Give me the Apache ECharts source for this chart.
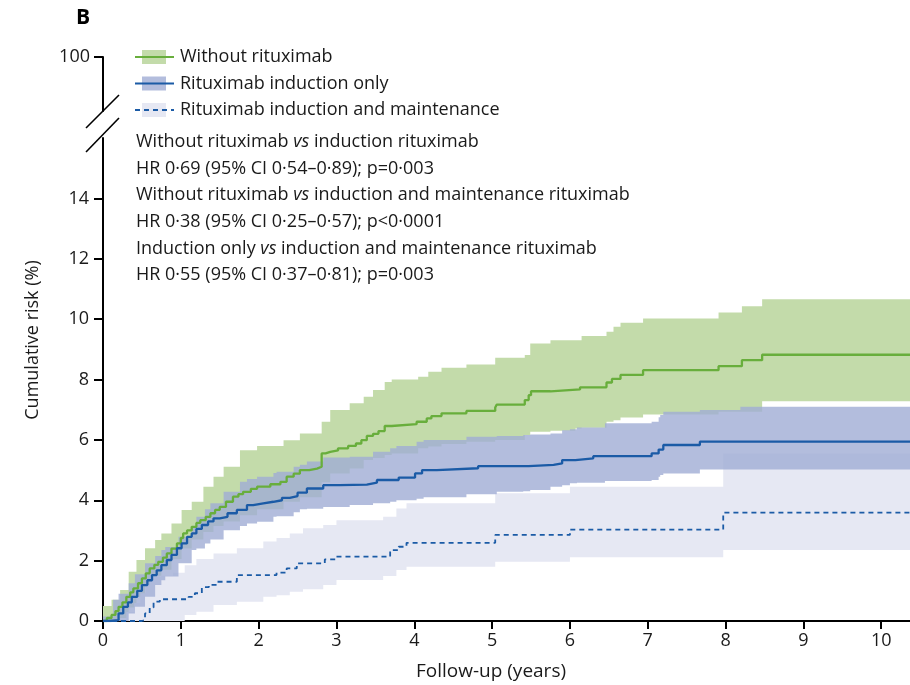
<!DOCTYPE html>
<html>
<head>
<meta charset="utf-8">
<script src="https://cdn.jsdelivr.net/npm/echarts@6/dist/echarts.min.js"></script>
<style>html,body{margin:0;padding:0;background:#fff}#c{width:910px;height:685px}</style>
</head>
<body>
<div id="c"></div>
<script>
// ---------- DATA ----------
var seriesNames = ['Without rituximab', 'Rituximab induction only', 'Rituximab induction and maintenance'];
var xTicks = [0, 1, 2, 3, 4, 5, 6, 7, 8, 9, 10];
var yTicks = [0, 2, 4, 6, 8, 10, 12, 14];
var yTopTicks = [100];

// Without rituximab: Kaplan-Meier step curve
var tWo = [0, 0.05, 0.11, 0.16, 0.2, 0.25, 0.3, 0.35, 0.39, 0.45,
           0.5, 0.55, 0.6, 0.66, 0.71, 0.77, 0.82, 0.88, 0.95, 1.0,
           1.03, 1.08, 1.14, 1.2, 1.25, 1.32, 1.38, 1.44, 1.5, 1.58,
           1.67, 1.74, 1.8, 1.9, 1.98, 2.15, 2.28, 2.36, 2.45, 2.53,
           2.65, 2.75, 2.81, 2.86, 2.92, 3.02, 3.15, 3.25, 3.32, 3.39,
           3.47, 3.54, 3.62, 3.71, 4.03, 4.16, 4.22, 4.35, 4.67, 5.04,
           5.06, 5.42, 5.47, 5.50, 5.75, 6.13, 6.47, 6.54, 6.65, 6.94,
           7.91, 8.21, 8.47, 10.37];
var vWo = [0, 0.1, 0.2, 0.33, 0.47, 0.62, 0.8, 0.95, 1.08, 1.25,
           1.41, 1.58, 1.74, 1.86, 1.96, 2.1, 2.24, 2.4, 2.57, 2.75,
           2.9, 3.0, 3.12, 3.25, 3.34, 3.45, 3.57, 3.68, 3.78, 3.95,
           4.12, 4.2, 4.28, 4.38, 4.45, 4.53, 4.61, 4.78, 4.88, 5.0,
           5.05, 5.11, 5.55, 5.6, 5.65, 5.72, 5.8, 5.88, 5.99, 6.13,
           6.2, 6.29, 6.46, 6.52, 6.6, 6.71, 6.79, 6.88, 6.96, 7.07,
           7.17, 7.32, 7.48, 7.61, 7.67, 7.74, 7.9, 8.02, 8.15, 8.31,
           8.44, 8.64, 8.82, 8.82];

// Without rituximab: 95% CI band
var tWoCI = [0, 0.11, 0.22, 0.33, 0.43, 0.54, 0.67, 0.75, 0.88, 1.01,
             1.14, 1.29, 1.42, 1.55, 1.76, 1.98, 2.32, 2.53, 2.81, 2.92,
             3.17, 3.35, 3.47, 3.62, 3.71, 4.05, 4.18, 4.35, 4.67, 5.04,
             5.42, 5.49, 5.75, 6.07, 6.15, 6.47, 6.56, 6.65, 6.94, 7.91,
             8.21, 8.47, 10.37];
var upWo = [0.5, 0.7, 1.03, 1.63, 2.02, 2.41, 2.68, 2.9, 3.23, 3.68,
            3.95, 4.45, 4.78, 5.11, 5.66, 5.8, 5.99, 6.21, 6.6, 6.99,
            7.21, 7.43, 7.65, 7.92, 8.0, 8.09, 8.26, 8.39, 8.5, 8.72,
            8.81, 9.19, 9.3, 9.3, 9.44, 9.58, 9.75, 9.88, 10.02, 10.22,
            10.43, 10.66, 10.66];
var loWo = [0, 0, 0.1, 0.45, 0.8, 1.15, 1.5, 1.7, 2.05, 2.4,
            2.7, 2.95, 3.15, 3.3, 3.5, 3.7, 3.95, 4.1, 4.6, 4.89,
            5.05, 5.33, 5.4, 5.5, 5.55, 5.72, 5.78, 5.86, 5.94, 6.0,
            6.16, 6.27, 6.3, 6.38, 6.4, 6.6, 6.65, 6.74, 6.84, 6.93,
            6.93, 7.28, 7.28];

// Rituximab induction only
var tInd = [0, 0.09, 0.2, 0.26, 0.32, 0.37, 0.44, 0.5, 0.57, 0.63,
            0.69, 0.75, 0.82, 0.88, 0.95, 1.01, 1.08, 1.14, 1.2, 1.27,
            1.35, 1.42, 1.5, 1.6, 1.72, 1.85, 1.93, 2.06, 2.19, 2.3,
            2.4, 2.5, 2.62, 2.83, 3.04, 3.39, 3.52, 3.80, 4.01, 4.10,
            4.29, 4.82, 5.47, 5.79, 5.90, 6.07, 6.3, 7.05, 7.14, 7.20,
            7.67, 10.37];
var vInd = [0, 0.03, 0.25, 0.47, 0.62, 0.8, 1.0, 1.19, 1.35, 1.52,
            1.68, 1.85, 2.02, 2.19, 2.41, 2.57, 2.79, 2.9, 3.05, 3.18,
            3.3, 3.4, 3.45, 3.57, 3.68, 3.84, 3.9, 3.95, 4.0, 4.08,
            4.14, 4.25, 4.39, 4.5, 4.52, 4.58, 4.67, 4.75, 4.89, 5.0,
            5.06, 5.13, 5.17, 5.22, 5.33, 5.39, 5.46, 5.55, 5.68, 5.83,
            5.94, 5.94];

// Rituximab induction only: 95% CI band
var tIndCI = [0, 0.13, 0.2, 0.33, 0.41, 0.54, 0.67, 0.75, 0.8, 0.97,
              1.14, 1.2, 1.31, 1.38, 1.55, 1.76, 1.85, 1.98, 2.19, 2.23,
              2.45, 2.53, 2.62, 2.83, 3.17, 3.47, 3.69, 3.77, 4.03, 4.12,
              4.67, 5.06, 5.40, 5.49, 5.75, 5.90, 6.0, 6.09, 6.45, 7.05,
              7.14, 7.16, 7.20, 7.67, 8.19, 10.37];
var upInd = [0.15, 0.7, 0.9, 1.25, 1.55, 1.91, 2.15, 2.35, 2.45, 2.79,
             3.15, 3.45, 3.7, 3.9, 4.28, 4.61, 4.7, 4.78, 4.9, 4.94,
             5.11, 5.18, 5.28, 5.42, 5.44, 5.61, 5.72, 5.8, 5.94, 6.0,
             6.1, 6.13, 6.16, 6.18, 6.21, 6.32, 6.35, 6.41, 6.55, 6.6,
             6.75, 6.82, 6.93, 6.99, 7.1, 7.1];
var loInd = [0, 0, 0, 0.25, 0.47, 0.8, 1.19, 1.35, 1.47, 1.91,
             2.35, 2.4, 2.57, 2.7, 3.01, 3.15, 3.23, 3.29, 3.45, 3.47,
             3.6, 3.7, 3.72, 3.78, 3.84, 3.9, 3.95, 4.0, 4.05, 4.1,
             4.2, 4.28, 4.3, 4.34, 4.45, 4.5, 4.56, 4.58, 4.64, 4.67,
             4.78, 4.84, 4.89, 5.02, 5.02, 5.02];

// Rituximab induction and maintenance
var tMnt = [0, 0.5, 0.54, 0.6, 0.65, 0.73, 1.1, 1.18, 1.27, 1.36,
            1.46, 1.72, 2.23, 2.36, 2.49, 2.85, 3.0, 3.69, 3.80, 3.90,
            5.04, 6.0, 7.97, 10.37];
var vMnt = [0, 0.03, 0.25, 0.45, 0.64, 0.72, 0.8, 0.92, 1.12, 1.2,
            1.3, 1.52, 1.6, 1.74, 1.91, 2.04, 2.13, 2.35, 2.46, 2.59,
            2.85, 3.03, 3.59, 3.59];

// Rituximab induction and maintenance: 95% CI band
var tMntCI = [0, 0.3, 0.4, 0.48, 0.55, 0.6, 0.75, 0.9, 1.05, 1.2,
              1.42, 1.72, 2.06, 2.23, 2.4, 2.57, 2.83, 3.0, 3.6, 3.77,
              3.9, 5.04, 6.0, 7.97, 10.37];
var upMnt = [0, 0.3, 0.6, 0.92, 1.2, 1.47, 1.5, 1.6, 1.85, 2.05,
             2.24, 2.41, 2.63, 2.75, 2.9, 3.07, 3.18, 3.34, 3.45, 3.73,
             3.9, 4.23, 4.45, 5.55, 5.55];
var loMnt = [0, 0, 0, 0, 0, 0, 0, 0, 0.2, 0.31,
             0.53, 0.64, 0.8, 0.85, 0.97, 1.05, 1.19, 1.36, 1.49, 1.69,
             1.8, 1.96, 2.11, 2.35, 2.35];

var annotLines = [
  'Without rituximab {i|vs} induction rituximab',
  'HR 0·69 (95% CI 0·54–0·89); p=0·003',
  'Without rituximab {i|vs} induction and maintenance rituximab',
  'HR 0·38 (95% CI 0·25–0·57); p<0·0001',
  'Induction only {i|vs} induction and maintenance rituximab',
  'HR 0·55 (95% CI 0·37–0·81); p=0·003'
];

// ---------- BUILD ----------
var FONT = '"Open Sans", "DejaVu Sans", sans-serif';
var TXT = '#1a1a1a';
var C_GREEN = '#68ae3c', C_BLUE = '#1b5ba6';
var B_GREEN = '#c3dbaa', B_BLUE = 'rgba(160,172,212,0.8)', B_LIGHT = '#e6e8f3';

function pairs(t, v) { return t.map(function (x, i) { return [x, v[i]]; }); }

// CI band drawn as one step-shaped polygon through the axis scales (api.coord)
function bandSeries(name, t, lo, up, color, z) {
  return {
    type: 'custom', name: name, silent: true, z: z,
    data: t.map(function (x, i) { return [x, lo[i], up[i]]; }),
    encode: { x: 0, y: [1, 2] },
    renderItem: function (params, api) {
      if (params.dataIndexInside !== 0) return null;
      var n = params.dataInsideLength;
      var top = [], bot = [];
      for (var j = 0; j < n; j++) {
        var x0 = api.value(0, j);
        var x1 = j + 1 < n ? api.value(0, j + 1) : x0;
        var l = api.value(1, j), u = api.value(2, j);
        top.push(api.coord([x0, u]), api.coord([x1, u]));
        bot.push(api.coord([x0, l]), api.coord([x1, l]));
      }
      var pts = top.concat(bot.reverse());
      return { type: 'polygon', shape: { points: pts }, style: { fill: color, stroke: null } };
    }
  };
}

var series = [
  bandSeries('CI ' + seriesNames[0], tWoCI, loWo, upWo, B_GREEN, 1),
  bandSeries('CI ' + seriesNames[2], tMntCI, loMnt, upMnt, B_LIGHT, 1),
  bandSeries('CI ' + seriesNames[1], tIndCI, loInd, upInd, B_BLUE, 1),
  { name: seriesNames[0], type: 'line', step: 'end', symbol: 'none', data: pairs(tWo, vWo),
    lineStyle: { color: C_GREEN, width: 2.3 }, z: 3 },
  { name: seriesNames[1], type: 'line', step: 'end', symbol: 'none', data: pairs(tInd, vInd),
    lineStyle: { color: C_BLUE, width: 2.3 }, z: 3 },
  { name: seriesNames[2], type: 'line', step: 'end', symbol: 'none', data: pairs(tMnt, vMnt),
    lineStyle: { color: C_BLUE, width: 1.8, type: [5, 4] }, z: 3 }
];

var legendGraphics = [];
var legY = [57, 83.5, 110];
var swatch = [B_GREEN, B_BLUE, B_LIGHT];
var lineCol = [C_GREEN, C_BLUE, C_BLUE];
for (var k = 0; k < 3; k++) {
  legendGraphics.push({ type: 'rect', shape: { x: 142, y: legY[k] - 7, width: 24, height: 14 }, style: { fill: swatch[k] } });
  legendGraphics.push({ type: 'line', shape: { x1: 135, y1: legY[k], x2: 174, y2: legY[k] },
    style: { stroke: lineCol[k], lineWidth: 2, lineDash: k === 2 ? [5, 4] : null } });
  legendGraphics.push({ type: 'text', x: 180, y: legY[k], style: { text: seriesNames[k], font: '18px ' + FONT, fill: TXT, verticalAlign: 'middle' } });
}
var annotGraphics = annotLines.map(function (s, i) {
  return { type: 'text', x: 136, y: 142 + i * 26.6,
    style: { text: s, font: '18px ' + FONT, fill: TXT, verticalAlign: 'middle',
      rich: { i: { fontStyle: 'italic', fontSize: 18, fontFamily: FONT, fill: TXT } } } };
});

var option = {
  animation: false,
  backgroundColor: '#fff',
  grid: [
    { left: 103, right: 0, top: 138, bottom: 64 },
    { left: 103, right: 0, top: 57, height: 54 }
  ],
  xAxis: [
    { type: 'value', gridIndex: 0, min: 0, max: 10.37,
      axisLine: { lineStyle: { color: '#000', width: 2 } },
      axisTick: { length: 8, lineStyle: { color: '#000', width: 2 }, customValues: xTicks },
      axisLabel: { customValues: xTicks, fontSize: 18, fontFamily: FONT, color: TXT, margin: 11 },
      splitLine: { show: false } },
    { type: 'value', gridIndex: 1, min: 0, max: 10.37, show: false }
  ],
  yAxis: [
    { type: 'value', gridIndex: 0, min: 0, max: 16, interval: 2,
      axisLine: { show: true, onZero: false, lineStyle: { color: '#000', width: 2 } },
      axisTick: { show: true, length: 9, lineStyle: { color: '#000', width: 2 }, customValues: yTicks },
      axisLabel: { customValues: yTicks, fontSize: 18, fontFamily: FONT, color: TXT, margin: 14 },
      splitLine: { show: false } },
    { type: 'value', gridIndex: 1, min: 99, max: 100,
      axisLine: { show: true, onZero: false, lineStyle: { color: '#000', width: 2 } },
      axisTick: { show: true, length: 9, lineStyle: { color: '#000', width: 2 }, customValues: yTopTicks },
      axisLabel: { customValues: yTopTicks, fontSize: 18, fontFamily: FONT, color: TXT, margin: 13 },
      splitLine: { show: false } }
  ],
  series: series,
  graphic: [
    { type: 'text', x: 76, y: 8, style: { text: 'B', font: 'bold 21px ' + FONT, fill: '#000' } },
    { type: 'line', shape: { x1: 86, y1: 128, x2: 119, y2: 95 }, style: { stroke: '#000', lineWidth: 1.6 } },
    { type: 'line', shape: { x1: 86, y1: 152, x2: 119, y2: 118 }, style: { stroke: '#000', lineWidth: 1.6 } },
    { type: 'text', x: 33, y: 340, rotation: Math.PI / 2,
      style: { text: 'Cumulative risk (%)', font: '18px ' + FONT, fill: TXT, align: 'center', verticalAlign: 'middle' } },
    { type: 'text', x: 491, y: 672,
      style: { text: 'Follow-up (years)', font: '19px ' + FONT, fill: TXT, align: 'center', verticalAlign: 'middle' } }
  ].concat(legendGraphics, annotGraphics)
};

var chart = echarts.init(document.getElementById('c'), null, { renderer: 'canvas' });
chart.setOption(option);
</script>
</body>
</html>
